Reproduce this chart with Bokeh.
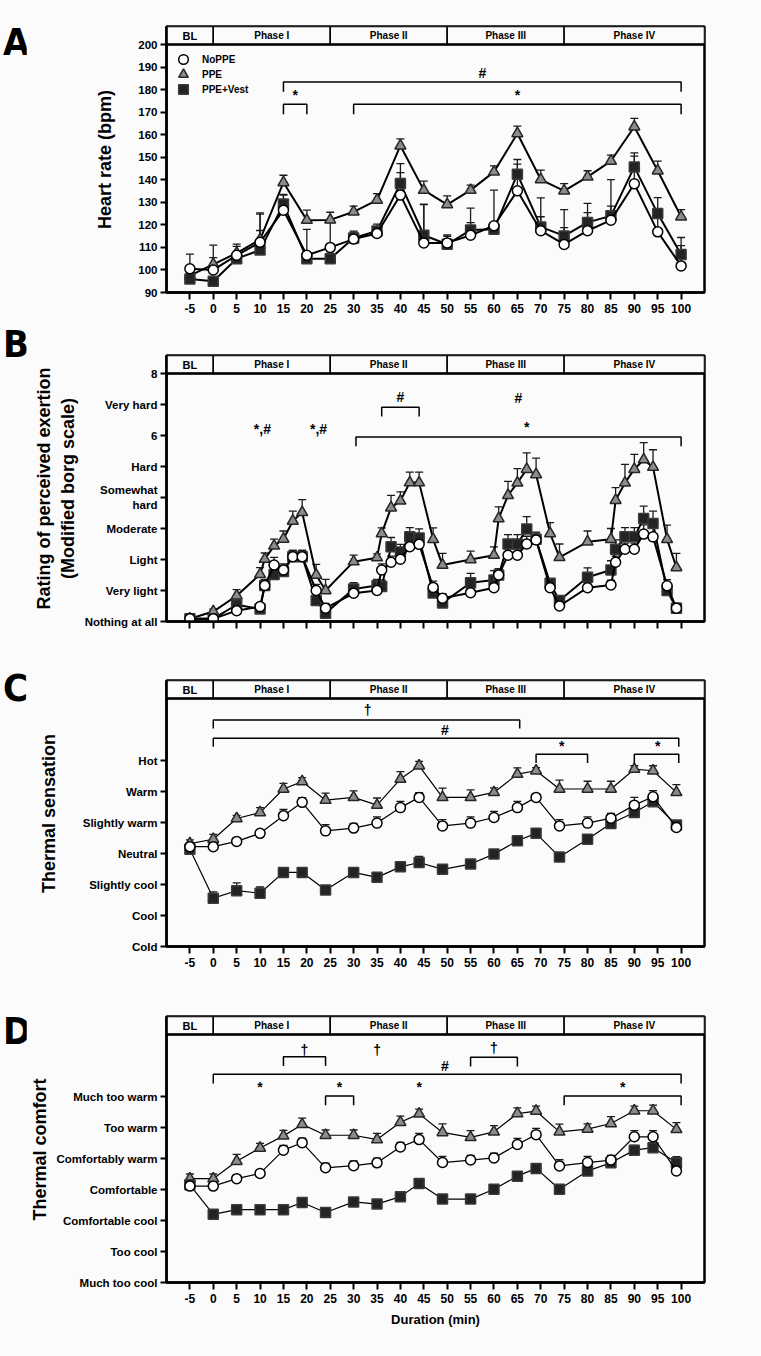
from bokeh.plotting import figure
from bokeh.layouts import column, row
from bokeh.models import (ColumnDataSource, Div, FixedTicker, Legend, LegendItem,
                          Range1d, Span, TeeHead, Whisker)
from bokeh.core.properties import value
from bokeh.embed import file_html
from bokeh.resources import INLINE

FONT = "Liberation Sans"
LETTER_CSS = "'Liberation Sans Narrow', 'DejaVu Sans Condensed', sans-serif"
BG = "#fbfbfb"
HEADER_PX = 18
PLOT_PX = 248
LETTER_W = 26

# ---------------------------------------------------------------- phases
phase_names = ["BL", "Phase I", "Phase II", "Phase III", "Phase IV"]
phase_edges = [-10, 0, 25, 50, 75, 105]
x_ticks = list(range(-5, 101, 5))

# ---------------------------------------------------------------- A: heart rate
hr_time = list(range(-5, 101, 5))
hr_noppe = [100.5, 100, 106.5, 112.3, 126.5, 106.5, 110, 113.7, 116.2, 133.2, 112, 112,
            115.4, 119.6, 135.1, 117.4, 111.3, 117.4, 122.1, 138.2, 116.9, 101.8]
hr_noppe_err = [6.5, 11, 5, 13, 7, 11.5, 11, 3, 3, 10, 17, 3.5, 12, 15.8, 11.8, 14.6,
                7.5, 8, 18, 12.3, 8, 9]
hr_ppe = [97.5, 102.5, 107.5, 113.5, 138.8, 122.1, 122.2, 125.8, 131, 155.1, 135.4, 129,
          135.4, 143.5, 160.5, 140.1, 135.1, 141.3, 148.3, 163.5, 144, 123.6]
hr_ppe_err = [3, 3, 3, 4, 3.2, 4.4, 3.4, 2.5, 2.9, 3, 4, 3.9, 2.2, 2.7, 3.3, 4.2, 3.2,
              2.7, 2.6, 3.7, 4.3, 3.2]
hr_vest = [96, 95, 105, 108.8, 129.2, 105, 105, 114.2, 117.3, 138.4, 115.4, 111.4, 117.7,
           118, 142.5, 119.1, 115.1, 121.1, 124, 145.7, 125, 106.9]
hr_vest_err = [2, 2, 3, 16, 4, 3, 3, 3, 3, 8.8, 13.8, 3.5, 3.3, 3, 6.5, 4.5, 11.7, 8.4,
               4.3, 6.2, 7.1, 7.5]
hr_ticks = list(range(90, 201, 10))
hr_brk_x0 = [15, 15, 30]
hr_brk_x1 = [100, 20, 100]
hr_brk_y = [183.4, 173.5, 173.5]
hr_sym = ["#", "*", "*"]
hr_sym_x = [57.5, 17.5, 65]
hr_sym_y = [187.5, 177.5, 177.5]

# ---------------------------------------------------------------- B: RPE
rpe_time = [-5, 0, 5, 10, 11, 13, 15, 17, 19, 22, 24, 30, 35, 36, 38, 40, 42, 44, 47, 49,
            55, 60, 61, 63, 65, 67, 69, 72, 74, 80, 85, 86, 88, 90, 92, 94, 97, 99]
rpe_ppe = [0.09, 0.32, 0.83, 1.52, 2.01, 2.44, 2.66, 3.24, 3.52, 1.5, 1.0, 1.93, 2.06,
           2.84, 3.67, 3.89, 4.48, 4.48, 2.65, 1.82, 2.0, 2.14, 3.32, 4.07, 4.47, 4.91,
           4.74, 2.84, 2.07, 2.57, 2.65, 3.91, 4.47, 4.91, 5.22, 4.98, 2.65, 1.74]
rpe_ppe_err = [0.05, 0.08, 0.2, 0.22, 0.2, 0.22, 0.26, 0.32, 0.41, 0.34, 0.36, 0.21, 0.12,
               0.18, 0.4, 0.29, 0.34, 0.34, 0.37, 0.38, 0.27, 0.27, 0.38, 0.45, 0.46,
               0.53, 0.53, 0.35, 0.43, 0.35, 0.35, 0.41, 0.6, 0.48, 0.55, 0.56, 0.46, 0.46]
rpe_noppe = [0.09, 0.09, 0.35, 0.48, 1.16, 1.82, 1.66, 2.09, 2.09, 1.0, 0.43, 0.91, 1.0,
             1.66, 1.91, 2.01, 2.41, 2.49, 1.1, 0.75, 0.93, 1.09, 1.5, 2.14, 2.14, 2.5,
             2.63, 1.09, 0.5, 1.09, 1.18, 1.91, 2.33, 2.33, 2.82, 2.73, 1.15, 0.43]
rpe_noppe_err = [0.03, 0.03, 0.1, 0.1, 0.2, 0.25, 0.2, 0.2, 0.2, 0.2, 0.15, 0.15, 0.15,
                 0.2, 0.2, 0.2, 0.25, 0.25, 0.2, 0.15, 0.15, 0.15, 0.2, 0.2, 0.2, 0.25,
                 0.25, 0.2, 0.15, 0.15, 0.15, 0.2, 0.2, 0.2, 0.3, 0.3, 0.2, 0.15]
rpe_vest = [0.09, 0.09, 0.54, 0.4, 1.16, 1.52, 1.61, 2.09, 2.09, 0.68, 0.27, 1.05, 1.16,
            1.13, 2.41, 2.24, 2.73, 2.69, 0.92, 0.6, 1.25, 1.34, 1.5, 2.5, 2.5, 2.98,
            2.65, 1.23, 0.68, 1.43, 1.66, 2.33, 2.73, 2.73, 3.32, 3.16, 1.0, 0.43]
rpe_vest_err = [0.03, 0.03, 0.1, 0.1, 0.15, 0.15, 0.2, 0.2, 0.2, 0.15, 0.1, 0.2, 0.2,
                0.2, 0.3, 0.25, 0.3, 0.3, 0.15, 0.15, 0.3, 0.3, 0.2, 0.3, 0.3, 0.4, 0.2,
                0.15, 0.15, 0.3, 0.3, 0.3, 0.3, 0.3, 0.4, 0.4, 0.2, 0.15]
borg_labels = ["Nothing at all", "Very light", "Light", "Moderate", "Somewhat\nhard",
               "Hard", "6", "Very hard", "8"]
rpe_brk_x0 = [36, 30.5]
rpe_brk_x1 = [44, 100]
rpe_brk_y = [6.91, 5.95]
rpe_sym = ["*,#", "*,#", "#", "#", "*"]
rpe_sym_x = [10.5, 22.5, 40, 65.2, 67]
rpe_sym_y = [6.2, 6.2, 7.23, 7.21, 6.27]

# ---------------------------------------------------------------- C / D time points
tc_time = [-5, 0, 5, 10, 15, 19, 24, 30, 35, 40, 44, 49, 55, 60, 65, 69, 74, 80, 85, 90,
           94, 99]

# ---------------------------------------------------------------- C: thermal sensation
ts_ppe = [0.32, 0.46, 1.13, 1.32, 2.08, 2.32, 1.72, 1.81, 1.56, 2.4, 2.83, 1.81, 1.81,
          1.97, 2.56, 2.67, 2.08, 2.08, 2.08, 2.72, 2.67, 1.97]
ts_ppe_err = [0.12, 0.16, 0.1, 0.16, 0.18, 0.13, 0.23, 0.21, 0.23, 0.24, 0.14, 0.3, 0.24,
              0.15, 0.2, 0.1, 0.29, 0.25, 0.25, 0.11, 0.16, 0.25]
ts_noppe = [0.22, 0.22, 0.39, 0.65, 1.22, 1.65, 0.73, 0.82, 0.98, 1.48, 1.81, 0.89, 0.98,
            1.16, 1.48, 1.81, 0.89, 0.98, 1.14, 1.56, 1.83, 0.84]
ts_noppe_err = [0.1, 0.03, 0.1, 0.03, 0.2, 0.15, 0.2, 0.15, 0.2, 0.2, 0.15, 0.2, 0.2,
                0.2, 0.2, 0.05, 0.2, 0.2, 0.15, 0.25, 0.2, 0.1]
ts_vest = [0.14, -1.44, -1.2, -1.28, -0.61, -0.61, -1.18, -0.61, -0.77, -0.43, -0.29,
           -0.51, -0.34, -0.02, 0.41, 0.65, -0.11, 0.46, 0.97, 1.32, 1.67, 0.92]
ts_vest_err = [0.0, 0.2, 0.25, 0.2, 0.1, 0.1, 0.1, 0.1, 0.05, 0.15, 0.2, 0.05, 0.05, 0.05,
               0.05, 0.05, 0.05, 0.15, 0.1, 0.1, 0.1, 0.1]
sensation_labels = ["Cold", "Cool", "Slightly cool", "Neutral", "Slightly warm", "Warm",
                    "Hot"]
ts_brk_x0 = [0, 0, 69, 90]
ts_brk_x1 = [65.5, 99.5, 80, 99.5]
ts_brk_y = [4.31, 3.72, 3.2, 3.2]
ts_sym = ["\u2020", "#", "*", "*"]
ts_sym_x = [33, 49.5, 74.5, 95]
ts_sym_y = [4.62, 3.98, 3.47, 3.47]

# ---------------------------------------------------------------- D: thermal comfort
tc_ppe = [0.35, 0.35, 0.91, 1.34, 1.73, 2.1, 1.75, 1.75, 1.61, 2.17, 2.44, 1.84, 1.68,
          1.86, 2.45, 2.53, 1.86, 1.95, 2.13, 2.54, 2.54, 1.94]
tc_ppe_err = [0.15, 0.15, 0.22, 0.15, 0.18, 0.2, 0.17, 0.17, 0.2, 0.2, 0.15, 0.28, 0.22,
              0.2, 0.18, 0.16, 0.25, 0.17, 0.22, 0.15, 0.18, 0.22]
tc_noppe = [0.11, 0.11, 0.35, 0.52, 1.27, 1.51, 0.7, 0.77, 0.86, 1.37, 1.61, 0.87, 0.95,
            1.02, 1.45, 1.77, 0.76, 0.87, 0.95, 1.7, 1.7, 0.6]
tc_noppe_err = [0.05, 0.05, 0.05, 0.05, 0.15, 0.15, 0.15, 0.15, 0.15, 0.15, 0.2, 0.2,
                0.15, 0.15, 0.2, 0.2, 0.2, 0.2, 0.15, 0.2, 0.2, 0.15]
tc_vest = [0.15, -0.8, -0.65, -0.65, -0.65, -0.42, -0.74, -0.4, -0.47, -0.23, 0.19, -0.31,
           -0.31, 0.01, 0.43, 0.68, 0.01, 0.6, 0.86, 1.27, 1.35, 0.86]
tc_vest_err = [0.0, 0.05, 0.1, 0.05, 0.1, 0.05, 0.05, 0.05, 0.05, 0.15, 0.1, 0.05, 0.05,
               0.05, 0.05, 0.05, 0.05, 0.05, 0.1, 0.15, 0.1, 0.2]
comfort_labels = ["Much too cool", "Too cool", "Comfortable cool", "Comfortable",
                  "Comfortably warm", "Too warm", "Much too warm"]
tc_brk_x0 = [15, 0, 24, 55, 75]
tc_brk_x1 = [24, 100, 30, 65, 100]
tc_brk_y = [4.28, 3.72, 3.02, 4.27, 3.02]
tc_sym = ["\u2020", "\u2020", "#", "*", "*", "*", "\u2020", "*"]
tc_sym_x = [19.5, 35, 49.5, 10, 27, 44, 60, 87.5]
tc_sym_y = [4.5, 4.5, 4.0, 3.31, 3.31, 3.31, 4.55, 3.31]


def make_panel(height, top, bottom, y_lo, y_top, ticks, labels, ylabel, ylabel_standoff,
               x_labels=True, xlabel=None):
    span = y_top - y_lo
    y_hi = y_top + HEADER_PX * span / PLOT_PX
    p = figure(width=761 - LETTER_W, height=height, x_range=Range1d(-10, 105),
               y_range=Range1d(y_lo, y_hi), output_backend="svg", toolbar_location=None,
               min_border_left=166 - LETTER_W, min_border_right=57, min_border_top=top,
               min_border_bottom=bottom, background_fill_color=BG, border_fill_color=BG,
               outline_line_color="black", outline_line_width=2.5)
    p.grid.visible = False

    xa = p.xaxis[0]
    xa.ticker = FixedTicker(ticks=x_ticks)
    xa.major_label_overrides = {t: (str(t) if x_labels else "") for t in x_ticks}
    xa.minor_tick_line_color = None
    xa.major_tick_in = 0
    xa.major_tick_out = 7
    xa.major_tick_line_width = 2
    xa.axis_line_width = 2.5
    xa.major_label_standoff = 4
    xa.major_label_text_font = FONT
    xa.major_label_text_font_style = "bold"
    xa.major_label_text_font_size = "12px"
    xa.major_label_text_color = "black"
    if xlabel:
        xa.axis_label = xlabel
        xa.axis_label_text_font = FONT
        xa.axis_label_text_font_style = "bold"
        xa.axis_label_text_font_size = "13px"
        xa.axis_label_text_color = "black"
        xa.axis_label_standoff = 6

    ya = p.yaxis[0]
    ya.ticker = FixedTicker(ticks=ticks)
    if labels is not None:
        ya.major_label_overrides = {t: lab for t, lab in zip(ticks, labels)}
    ya.minor_tick_line_color = None
    ya.major_tick_in = 0
    ya.major_tick_out = 6
    ya.major_tick_line_width = 2
    ya.axis_line_width = 2.5
    ya.major_label_standoff = 3
    ya.major_label_text_font = FONT
    ya.major_label_text_font_style = "bold"
    ya.major_label_text_font_size = "11.5px"
    ya.major_label_text_color = "black"
    ya.axis_label = ylabel
    ya.axis_label_text_font = FONT
    ya.axis_label_text_font_style = "bold"
    ya.axis_label_text_font_size = "18px"
    ya.axis_label_text_color = "black"
    ya.axis_label_standoff = ylabel_standoff

    # phase header band along the top of the frame
    p.quad(left=phase_edges[:-1], right=phase_edges[1:], bottom=y_top, top=y_hi,
           fill_color=BG, line_color="black", line_width=1.5)
    centers = [(a + b) / 2 for a, b in zip(phase_edges[:-1], phase_edges[1:])]
    hsrc = ColumnDataSource(dict(x=centers, y=[(y_top + y_hi) / 2] * len(centers),
                                 text=phase_names,
                                 size=["11px"] + ["10px"] * (len(centers) - 1)))
    p.text(x="x", y="y", text="text", source=hsrc, text_align="center",
           text_baseline="middle", text_font=value(FONT), text_font_style="bold",
           text_font_size="size", text_color="black")
    p.add_layout(Span(location=y_top, dimension="width", line_color="black",
                      line_width=2.5))
    return p


def add_series(p, t, y, err, err_color):
    src = ColumnDataSource(dict(x=t, y=y, hi=[a + b for a, b in zip(y, err)]))
    p.add_layout(Whisker(source=src, base="x", lower="y", upper="hi",
                         dimension="height", line_color=err_color, line_width=1.3,
                         upper_head=TeeHead(size=8, line_color=err_color, line_width=1.3),
                         lower_head=None))
    return src


def draw_groups(p, t, groups, line_w, sizes):
    renderers = {}
    sources = []
    for name, y, err, marker, fill, edge in groups:
        sources.append((name, add_series(p, t, y, err, "#1a1a1a"), marker, fill, edge))
    for name, src, marker, fill, edge in sources:
        p.line("x", "y", source=src, line_color="black", line_width=line_w)
        renderers[name] = p.scatter("x", "y", source=src, marker=marker,
                                    size=sizes[marker], fill_color=fill, line_color=edge,
                                    line_width=1.5)
    return renderers


def add_brackets(p, x0, x1, yl, drop, sym, sx, sy):
    xs = [[a, a, b, b] for a, b in zip(x0, x1)]
    ys = [[y - drop, y, y, y - drop] for y in yl]
    p.multi_line(xs=xs, ys=ys, line_color="black", line_width=1.5)
    p.text(x=sx, y=sy, text=sym, text_align="center", text_baseline="middle",
           text_font=value(FONT), text_font_style="bold", text_font_size="14px",
           text_color="black")


def with_letter(p, letter, pad_top):
    """Put the panel letter in a narrow column to the left of the figure."""
    div = Div(text=letter, width=LETTER_W, height=p.height, margin=0,
              styles={"font-family": LETTER_CSS, "font-size": "38px",
                      "font-weight": "bold", "line-height": "38px", "color": "black",
                      "padding-top": f"{pad_top}px", "padding-left": "3px",
                      "background-color": BG, "overflow": "visible"})
    return row(div, p, spacing=0)


TRI_FILL, TRI_EDGE = "#8c8c8c", "#262626"
SQ_FILL, SQ_EDGE = "#232323", "#3a3a3a"
CI_FILL, CI_EDGE = "white", "black"
SIZES = {"triangle": 11, "square": 10, "circle": 10}

# ---------------------------------------------------------------- panel A
pa = make_panel(322, 26, 30, 90, 200, hr_ticks, None, "Heart rate (bpm)", 20)
ra = draw_groups(pa, hr_time, [
    ("PPE", hr_ppe, hr_ppe_err, "triangle", TRI_FILL, TRI_EDGE),
    ("PPE+Vest", hr_vest, hr_vest_err, "square", SQ_FILL, SQ_EDGE),
    ("NoPPE", hr_noppe, hr_noppe_err, "circle", CI_FILL, CI_EDGE),
], 2, SIZES)
add_brackets(pa, hr_brk_x0, hr_brk_x1, hr_brk_y, 4.4, hr_sym, hr_sym_x, hr_sym_y)

# one single-entry legend per group, stacked in the upper left corner
for name, bottom_offset in [("NoPPE", 221), ("PPE", 206), ("PPE+Vest", 191)]:
    pa.add_layout(Legend(items=[LegendItem(label=name, renderers=[ra[name]])],
                         location=(5, bottom_offset), glyph_width=24, glyph_height=24,
                         padding=0, margin=0, spacing=0, label_standoff=7,
                         label_height=12, label_text_font=FONT,
                         label_text_font_style="bold", label_text_font_size="10px",
                         label_text_color="black", border_line_color=None,
                         background_fill_alpha=0))

# ---------------------------------------------------------------- panel B
pb = make_panel(343, 33, 44, 0, 8, list(range(0, 9)), borg_labels,
                "Rating of perceived exertion\n(Modified borg scale)", 4, x_labels=False)
draw_groups(pb, rpe_time, [
    ("PPE", rpe_ppe, rpe_ppe_err, "triangle", TRI_FILL, TRI_EDGE),
    ("PPE+Vest", rpe_vest, rpe_vest_err, "square", SQ_FILL, SQ_EDGE),
    ("NoPPE", rpe_noppe, rpe_noppe_err, "circle", CI_FILL, CI_EDGE),
], 2, SIZES)
add_brackets(pb, rpe_brk_x0, rpe_brk_x1, rpe_brk_y, 0.3, rpe_sym, rpe_sym_x, rpe_sym_y)

# ---------------------------------------------------------------- panel C
pc = make_panel(320, 15, 39, -3, 5, list(range(-3, 4)), sensation_labels,
                "Thermal sensation", 21)
draw_groups(pc, tc_time, [
    ("PPE", ts_ppe, ts_ppe_err, "triangle", TRI_FILL, TRI_EDGE),
    ("PPE+Vest", ts_vest, ts_vest_err, "square", SQ_FILL, SQ_EDGE),
    ("NoPPE", ts_noppe, ts_noppe_err, "circle", CI_FILL, CI_EDGE),
], 1.2, SIZES)
add_brackets(pc, ts_brk_x0, ts_brk_x1, ts_brk_y, 0.28, ts_sym, ts_sym_x, ts_sym_y)

# ---------------------------------------------------------------- panel D
pd_ = make_panel(371, 31, 74, -3, 5, list(range(-3, 4)), comfort_labels,
                 "Thermal comfort", 4, xlabel="Duration (min)")
draw_groups(pd_, tc_time, [
    ("PPE", tc_ppe, tc_ppe_err, "triangle", TRI_FILL, TRI_EDGE),
    ("PPE+Vest", tc_vest, tc_vest_err, "square", SQ_FILL, SQ_EDGE),
    ("NoPPE", tc_noppe, tc_noppe_err, "circle", CI_FILL, CI_EDGE),
], 1.2, SIZES)
add_brackets(pd_, tc_brk_x0, tc_brk_x1, tc_brk_y, 0.3, tc_sym, tc_sym_x, tc_sym_y)

layout = column(with_letter(pa, "A", 23), with_letter(pb, "B", 3),
                with_letter(pc, "C", 4), with_letter(pd_, "D", 27), spacing=0)
open("out.html", "w").write(file_html(layout, INLINE))
